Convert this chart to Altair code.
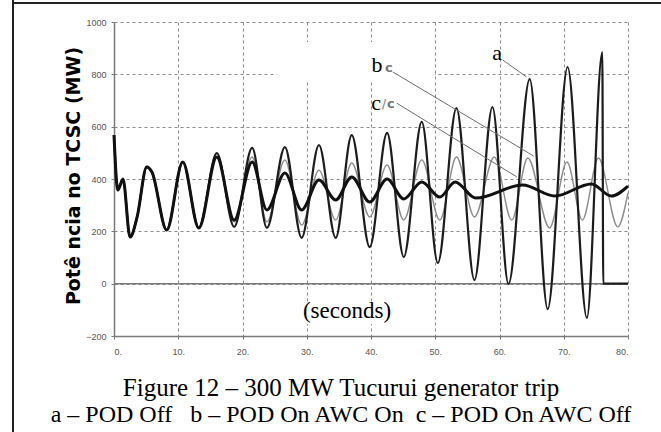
import altair as alt
import pandas as pd

# ---- data ----
# a - POD Off (growing oscillation, trips at ~76 s)
a_t = [0, 0.6, 1.4, 2.5, 3.6, 5.1, 5.9, 8.2, 10.7, 13.2, 16.0, 18.7, 21.5, 23.8, 26.6, 29.2,
       31.9, 34.5, 37.0, 39.8, 42.5, 45.1, 47.9, 50.4, 53.3, 56.1, 58.9, 61.4, 64.7, 67.5,
       70.6, 73.6, 76.0, 76.15, 80]
a_v = [568, 358, 400, 178, 255, 446, 427, 205, 465, 213, 499, 217, 519, 213, 522, 175,
       530, 175, 568, 140, 576, 102, 618, 79, 671, 14, 675, -1, 782, -97,
       828, -131, 885, 0, 0]
# b - POD On AWC On (sustained moderate oscillation, grey)
b_t = [0, 0.6, 1.4, 2.5, 3.6, 5.1, 5.9, 8.2, 10.7, 13.2, 16.0, 18.7, 21.5, 23.8, 26.6, 29.2,
       31.9, 34.5, 37.0, 39.8, 42.5, 45.1, 47.9, 50.7, 53.3, 56.1, 59.2, 61.9, 64.4, 67.8,
       70.5, 72.9, 75.4, 78.4, 80]
b_v = [568, 358, 400, 178, 255, 446, 427, 205, 465, 213, 499, 236, 484, 236, 473, 224,
       434, 243, 461, 255, 454, 243, 473, 243, 484, 255, 484, 243, 480, 213,
       465, 243, 480, 217, 347]
# c - POD On AWC Off (damped, thick black)
c_t = [0, 0.6, 1.4, 2.5, 3.6, 5.1, 5.9, 8.2, 10.7, 13.2, 16.0, 18.7, 21.5, 23.8, 26.6, 29.2,
       31.9, 34.5, 37.0, 39.8, 42.5, 45.1, 47.9, 50.7, 53.1, 56.3, 63.6, 68.6, 74.3, 77.4, 80]
c_v = [568, 358, 400, 178, 255, 446, 427, 205, 465, 213, 484, 243, 465, 282, 423, 282,
       396, 320, 408, 312, 400, 324, 389, 331, 389, 327, 377, 335, 381, 335, 373]

x_ticks = [0, 10, 20, 30, 40, 50, 60, 70, 80]
y_ticks = [-200, 0, 200, 400, 600, 800, 1000]

# leader lines (from label to curve), data coordinates
lead_t = [60.5, 43.4, 44.0]
lead_v = [855, 809, 690]
lead_t2 = [64.2, 65.3, 62.7]
lead_v2 = [790, 488, 408]

rows = []
for name, ts, vs in [("b", b_t, b_v), ("a", a_t, a_v), ("c", c_t, c_v)]:
    for t, v in zip(ts, vs):
        rows.append({"series": name, "t": t, "v": v})
df = pd.DataFrame(rows)
lead_df = pd.DataFrame({"t": lead_t, "v": lead_v, "t2": lead_t2, "v2": lead_v2})
one = pd.DataFrame({"k": [0]})

W, H = 514, 314
xs = alt.Scale(domain=[0, 80], nice=False, zero=False)
ys = alt.Scale(domain=[-200, 1000], nice=False, zero=False)

x_axis = alt.Axis(values=x_ticks, labelExpr="datum.value + '.'", grid=True,
                  gridDash=[3, 3], gridColor="#8a8a8a", gridWidth=1,
                  domainColor="#7a7a7a", domainWidth=1.5, tickColor="#7a7a7a",
                  tickSize=3, labelFont="Liberation Sans", labelFontSize=9,
                  labelColor="#555", labelPadding=8, title=None)
y_axis = alt.Axis(values=y_ticks, format="d", grid=True,
                  gridDash=[3, 3], gridColor="#8a8a8a", gridWidth=1,
                  domainColor="#7a7a7a", domainWidth=1.5, tickColor="#7a7a7a",
                  tickSize=3, labelFont="Liberation Sans", labelFontSize=9,
                  labelColor="#555", labelPadding=5, title=None)

base = alt.Chart(df)

# white masks present in the scanned picture
mask_top = alt.Chart(one).mark_rect(color="white").encode(
    x=alt.value(163), x2=alt.value(321), y=alt.value(20), y2=alt.value(58))
mask_sec = alt.Chart(one).mark_rect(color="white").encode(
    x=alt.value(184), x2=alt.value(282), y=alt.value(280), y2=alt.value(302))

zero = alt.Chart(pd.DataFrame({"v": [0]})).mark_rule(color="#7a7a7a", strokeWidth=1.5).encode(
    y=alt.Y("v:Q", scale=ys, axis=y_axis))

def series_line(name, color, width):
    return base.transform_filter(alt.datum.series == name).mark_line(
        color=color, strokeWidth=width, interpolate="monotone").encode(
        x=alt.X("t:Q", scale=xs, axis=x_axis),
        y=alt.Y("v:Q", scale=ys, axis=y_axis))

line_b = series_line("b", "#8c8c8c", 1.4)
line_a = series_line("a", "#1c1c1c", 2.2)
line_c = series_line("c", "#111111", 3.0)

leaders = alt.Chart(lead_df).mark_rule(color="#6e6e6e", strokeWidth=1).encode(
    x=alt.X("t:Q", scale=xs), y=alt.Y("v:Q", scale=ys), x2="t2:Q", y2="v2:Q")

serif = "Liberation Serif"
NB = "\u00a0"

def txt(s, x, y, size=22, font=serif, color="black", weight="normal", align="center",
        angle=0, baseline="alphabetic"):
    return alt.Chart(one).mark_text(text=s, font=font, fontSize=size, color=color,
                                    fontWeight=weight, align=align, angle=angle,
                                    baseline=baseline).encode(
        x=alt.value(x), y=alt.value(y))

caption2 = ("a \u2013 POD Off" + NB * 3 + "b \u2013 POD On AWC On" + NB * 2
            + "c \u2013 POD On AWC Off")

labels = [
    txt("a", 383, 38),
    txt("b", 263, 50),
    txt("c", 271, 50, size=13, font="DejaVu Sans", color="#777", weight="bold", align="left"),
    txt("c", 262, 88),
    txt("/", 268, 86, size=12, font="DejaVu Sans", color="#777", align="left"),
    txt("c", 273, 86, size=13, font="DejaVu Sans", color="#777", weight="bold", align="left"),
    txt("(seconds)", 233, 296, size=23),
    txt("Potê ncia no TCSC (MW)", -40, 154, size=19, font="DejaVu Sans", weight="bold",
        angle=270, baseline="middle"),
    txt("Figure 12 \u2013 300 MW Tucurui generator trip", 227, 374, size=25),
    txt(caption2, 227, 400, size=24),
]

frame_top = alt.Chart(one).mark_rule(color="#222", strokeWidth=2).encode(
    x=alt.value(-102), x2=alt.value(547), y=alt.value(-19))
frame_left = alt.Chart(one).mark_rule(color="#222", strokeWidth=2).encode(
    x=alt.value(-101), y=alt.value(-22), y2=alt.value(410))

chart = alt.layer(
    line_b, mask_top, mask_sec, zero, line_a, line_c, leaders, *labels, frame_top, frame_left
).properties(
    width=W, height=H,
    padding={"left": 114, "top": 22, "right": 33, "bottom": 96},
    autosize=alt.AutoSizeParams(type="none"),
    background="white",
).configure_view(stroke=None)

chart.save("out.html", embed_options={"renderer": "svg", "actions": False})
